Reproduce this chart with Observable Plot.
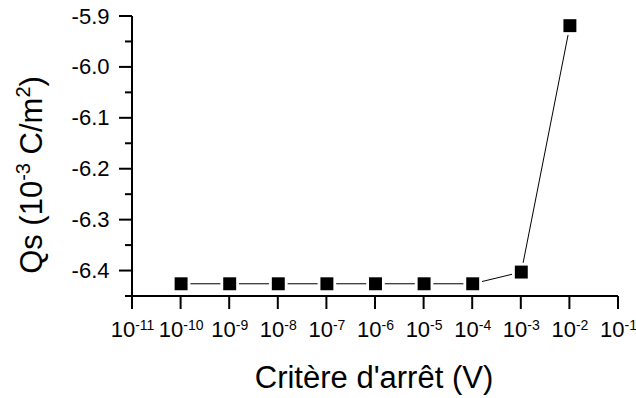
<!DOCTYPE html>
<html>
<head>
<meta charset="utf-8">
<script src="https://cdn.jsdelivr.net/npm/d3@7"></script>
<script src="https://cdn.jsdelivr.net/npm/@observablehq/plot@0.6"></script>
<style>
  html, body { margin: 0; padding: 0; background: #fff; }
  #chart { width: 636px; height: 398px; }
</style>
</head>
<body>
<div id="chart"></div>
<script>
// Data
const criteria = [1e-10, 1e-9, 1e-8, 1e-7, 1e-6, 1e-5, 1e-4, 1e-3, 1e-2];
const qs = [-6.425, -6.425, -6.425, -6.425, -6.425, -6.425, -6.425, -6.402, -5.918];
const xTickExponents = [-11, -10, -9, -8, -7, -6, -5, -4, -3, -2, -1];
const yMajorTicks = [-5.9, -6.0, -6.1, -6.2, -6.3, -6.4];
const yMinorTicks = [-5.95, -6.05, -6.15, -6.25, -6.35, -6.45];
const xTitle = "Critère d'arrêt (V)";

const data = criteria.map((c, i) => ({x: c, y: qs[i]}));
const xTicks = xTickExponents.map(e => Math.pow(10, e));

const FONT = "'Liberation Sans', Arial, sans-serif";

const plot = Plot.plot({
  width: 636,
  height: 398,
  marginLeft: 132,
  marginRight: 18,
  marginTop: 16,
  marginBottom: 102,
  style: {fontFamily: FONT, color: "black", background: "white", overflow: "visible"},
  x: {type: "log", domain: [1e-11, 1e-1]},
  y: {domain: [-6.45, -5.9]},
  marks: [
    Plot.axisX({
      ticks: xTicks,
      tickSize: 13,
      tickPadding: 12,
      strokeWidth: 2,
      fontSize: 22,
      label: null,
      tickFormat: d => "10^" + Math.round(Math.log10(d))
    }),
    Plot.axisY({
      ticks: yMajorTicks,
      tickSize: 13,
      tickPadding: 10,
      strokeWidth: 2,
      fontSize: 22,
      label: null,
      tickFormat: d => d.toFixed(1)
    }),
    Plot.axisY({
      ticks: yMinorTicks,
      tickSize: 7,
      strokeWidth: 2,
      text: null,
      label: null
    }),
    Plot.ruleX([1e-11], {strokeWidth: 2}),
    Plot.ruleY([-6.45], {strokeWidth: 2}),
    Plot.line(data, {x: "x", y: "y", stroke: "black", strokeWidth: 1}),
    Plot.dot(data, {x: "x", y: "y", symbol: "square", r: 10.5, fill: "white"}),
    Plot.dot(data, {x: "x", y: "y", symbol: "square", r: 7.3, fill: "black"})
  ]
});

const svg = d3.select(plot);

// crisp 2px ticks and axis lines: drop the half-pixel offset
svg.selectAll('g[aria-label="x-axis tick"], g[aria-label="y-axis tick"], g[aria-label="rule"]')
  .attr("transform", null);

// superscripts for x tick labels
svg.selectAll('g[aria-label="x-axis tick label"] text').each(function() {
  const t = this.textContent;
  const parts = t.split("^");
  const el = d3.select(this);
  el.text(null);
  el.append("tspan").text(parts[0]);
  el.append("tspan").attr("dy", "-0.5em").attr("font-size", 14).text(parts[1]);
});

// Axis titles
svg.append("text")
  .attr("x", 374)
  .attr("y", 388)
  .attr("text-anchor", "middle")
  .attr("font-family", FONT)
  .attr("font-size", 31)
  .attr("fill", "black")
  .text(xTitle);

const yt = svg.append("text")
  .attr("transform", "translate(42,175) rotate(-90)")
  .attr("text-anchor", "middle")
  .attr("font-family", FONT)
  .attr("font-size", 31)
  .attr("fill", "black");
yt.append("tspan").text("Qs (10");
yt.append("tspan").attr("dy", -12).attr("font-size", 20).text("-3");
yt.append("tspan").attr("dy", 12).text(" C/m");
yt.append("tspan").attr("dy", -12).attr("font-size", 20).text("2");
yt.append("tspan").attr("dy", 12).text(")");

document.getElementById("chart").appendChild(plot);
</script>
</body>
</html>
